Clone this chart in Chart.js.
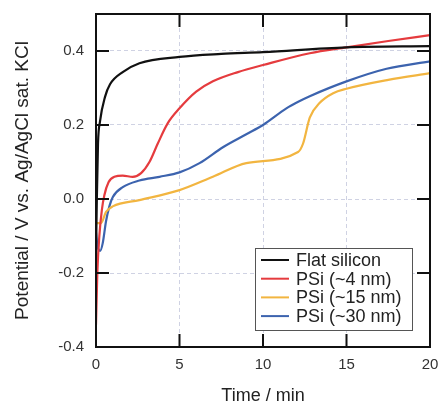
<!DOCTYPE html>
<html>
<head>
<meta charset="utf-8">
<script src="https://cdn.jsdelivr.net/npm/chart.js@4"></script>
<style>
  body { margin: 0; background: #fff; }
  #wrap { width: 440px; height: 403px; }
</style>
</head>
<body>
<div id="wrap"><canvas id="myChart"></canvas></div>
<script>
const seriesNames = ["Flat silicon", "PSi (~4 nm)", "PSi (~15 nm)", "PSi (~30 nm)"];
const seriesColors = ["#111111", "#e53b3e", "#f2b540", "#3c63ae"];

const flatT = [0, 0.05, 0.12, 0.24, 0.54, 0.84, 1.6, 2.6, 5, 7.5, 10, 15, 20];
const flatV = [-0.15, 0.0, 0.15, 0.21, 0.276, 0.31, 0.343, 0.367, 0.384, 0.392, 0.397, 0.41, 0.413];

const psi4T = [0, 0.08, 0.2, 0.35, 0.5, 0.75, 1.1, 1.6, 2.2, 2.7, 3.2, 3.7, 4.3, 5, 6, 7, 8.5, 10, 12.8, 15, 17.5, 20];
const psi4V = [-0.34, -0.2, -0.1, -0.03, 0.01, 0.045, 0.06, 0.063, 0.06, 0.07, 0.1, 0.15, 0.205, 0.245, 0.29, 0.318, 0.343, 0.362, 0.394, 0.41, 0.427, 0.443];

const psi15T = [0, 0.3, 0.6, 1.0, 2.6, 5, 7, 9, 12.1, 12.4, 12.8, 13.4, 14.2, 15, 17.5, 20];
const psi15V = [-0.065, -0.065, -0.035, -0.02, -0.003, 0.024, 0.06, 0.097, 0.127, 0.15, 0.22, 0.26, 0.286, 0.298, 0.322, 0.34];

const psi30T = [0, 0.1, 0.25, 0.4, 0.6, 0.8, 1.0, 1.6, 2.6, 3.8, 5, 6.2, 7.6, 9, 10, 11.4, 12.2, 12.8, 15, 17.4, 20];
const psi30V = [-0.09, -0.13, -0.14, -0.12, -0.06, -0.02, 0.005, 0.032, 0.05, 0.06, 0.072, 0.097, 0.14, 0.175, 0.2, 0.245, 0.265, 0.278, 0.318, 0.352, 0.372];

const xTicks = [0, 5, 10, 15, 20];
const yTicks = [-0.4, -0.2, 0.0, 0.2, 0.4];

const allT = [flatT, psi4T, psi15T, psi30T];
const allV = [flatV, psi4V, psi15V, psi30V];

const datasets = seriesNames.map((name, i) => ({
  label: name,
  data: allT[i].map((t, j) => ({ x: t, y: allV[i][j] })),
  borderColor: seriesColors[i],
  borderWidth: 2.2,
  pointRadius: 0,
  fill: false,
  cubicInterpolationMode: "monotone"
}));

const FONT = "'Liberation Sans', Arial, sans-serif";

// frame with inward ticks on all four sides
const framePlugin = {
  id: "frame",
  afterDatasetsDraw(chart) {
    const { ctx, chartArea: a, scales } = chart;
    const len = 13;
    ctx.save();
    ctx.strokeStyle = "#111";
    ctx.lineWidth = 2;
    ctx.beginPath();
    xTicks.forEach(v => {
      const px = scales.x.getPixelForValue(v);
      ctx.moveTo(px, a.bottom); ctx.lineTo(px, a.bottom - len);
      ctx.moveTo(px, a.top); ctx.lineTo(px, a.top + len);
    });
    yTicks.forEach(v => {
      const py = scales.y.getPixelForValue(v);
      ctx.moveTo(a.left, py); ctx.lineTo(a.left + len, py);
      ctx.moveTo(a.right, py); ctx.lineTo(a.right - len, py);
    });
    ctx.stroke();
    ctx.strokeRect(a.left, a.top, a.right - a.left, a.bottom - a.top);
    ctx.restore();
  }
};

// boxed legend inside the plot, lower right
const boxLegend = {
  id: "boxLegend",
  afterDraw(chart) {
    const { ctx } = chart;
    const bx = 255, by = 248, bw = 157, bh = 82;
    ctx.save();
    ctx.fillStyle = "#fff";
    ctx.fillRect(bx, by, bw, bh);
    ctx.strokeStyle = "#555";
    ctx.lineWidth = 1;
    ctx.strokeRect(bx + 0.5, by + 0.5, bw, bh);
    ctx.font = "18px " + FONT;
    ctx.textBaseline = "middle";
    chart.data.datasets.forEach((ds, i) => {
      const y = by + 12 + i * 18.7;
      ctx.strokeStyle = ds.borderColor;
      ctx.lineWidth = 2;
      ctx.beginPath();
      ctx.moveTo(bx + 6, y); ctx.lineTo(bx + 34, y);
      ctx.stroke();
      ctx.fillStyle = "#222";
      ctx.fillText(ds.label, bx + 41, y + 1);
    });
    ctx.restore();
  }
};

new Chart("myChart", {
  type: "line",
  data: { datasets: datasets },
  options: {
    responsive: true,
    maintainAspectRatio: false,
    animation: false,
    layout: { padding: { top: 14, right: 10, left: 0, bottom: 0 } },
    plugins: { legend: { display: false }, tooltip: { enabled: false } },
    scales: {
      x: {
        type: "linear",
        min: 0,
        max: 20,
        afterFit: s => { s.height = 56; s.paddingLeft = 0; s.paddingRight = 0; },
        ticks: { stepSize: 5, padding: 9, color: "#333", font: { family: FONT, size: 15 } },
        grid: { color: "#cfd2e3", lineWidth: 1, drawTicks: false },
        border: { display: false, dash: [4, 3] },
        title: {
          display: true,
          text: "Time / min",
          color: "#222",
          font: { family: FONT, size: 18, lineHeight: 1 },
          padding: { top: 0, bottom: -2 }
        }
      },
      y: {
        min: -0.4,
        max: 0.5,
        afterFit: s => { s.width = 96; s.paddingTop = 0; s.paddingBottom = 0; },
        ticks: {
          stepSize: 0.2,
          includeBounds: false,
          padding: 12,
          color: "#333",
          font: { family: FONT, size: 15 },
          callback: v => v.toFixed(1)
        },
        grid: { color: "#cfd2e3", lineWidth: 1, drawTicks: false },
        border: { display: false, dash: [4, 3] },
        title: {
          display: true,
          text: "Potential / V vs. Ag/AgCl sat. KCl",
          color: "#222",
          font: { family: FONT, size: 19, lineHeight: 1 },
          padding: { top: 13, bottom: 0 }
        }
      }
    }
  },
  plugins: [framePlugin, boxLegend]
});
</script>
</body>
</html>
